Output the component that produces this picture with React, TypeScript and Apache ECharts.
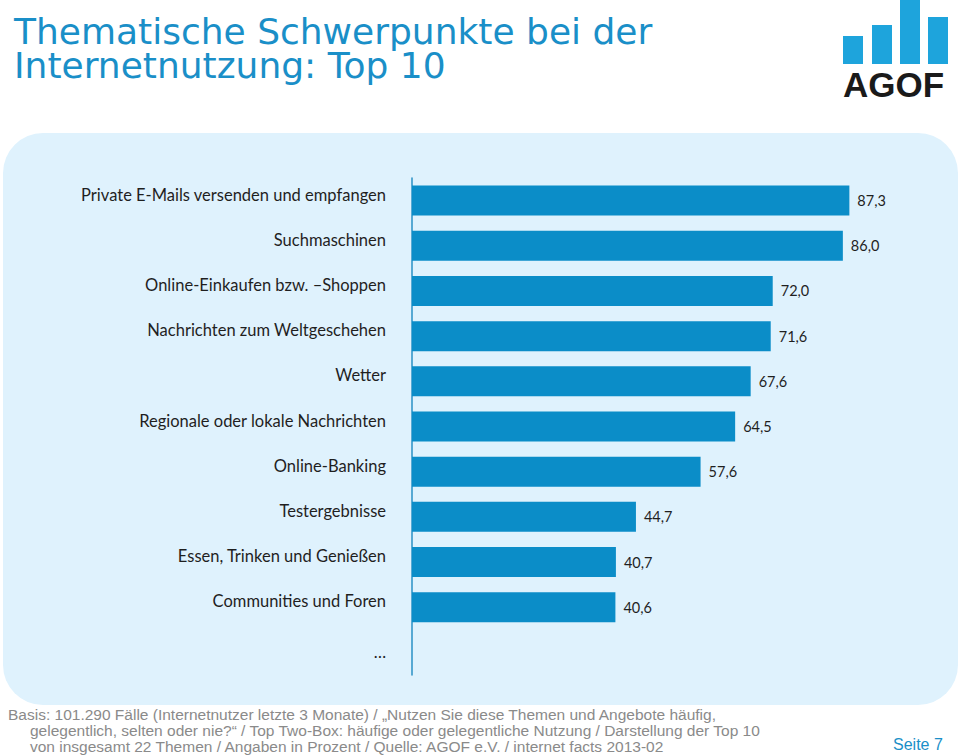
import React, { useEffect, useRef } from "react";
import * as echarts from "echarts";

const categories = [
  "Private E-Mails versenden und empfangen",
  "Suchmaschinen",
  "Online-Einkaufen bzw. –Shoppen",
  "Nachrichten zum Weltgeschehen",
  "Wetter",
  "Regionale oder lokale Nachrichten",
  "Online-Banking",
  "Testergebnisse",
  "Essen, Trinken und Genießen",
  "Communities und Foren",
  "…",
];
const values: (number | null)[] = [87.3, 86.0, 72.0, 71.6, 67.6, 64.5, 57.6, 44.7, 40.7, 40.6, null];

const titleLines = ["Thematische Schwerpunkte bei der", "Internetnutzung: Top 10"];
const footerLines = [
  "Basis: 101.290 Fälle (Internetnutzer letzte 3 Monate) / „Nutzen Sie diese Themen und Angebote häufig,",
  "gelegentlich, selten oder nie?“ / Top Two-Box: häufige oder gelegentliche Nutzung / Darstellung der Top 10",
  "von insgesamt 22 Themen / Angaben in Prozent / Quelle: AGOF e.V. / internet facts 2013-02",
];
const pageLabel = "Seite 7";
const logoBars = [
  { x: 843, y: 36, h: 28 },
  { x: 872, y: 25, h: 39 },
  { x: 900, y: 0, h: 64 },
  { x: 928, y: 17, h: 47 },
];

export default function App() {
  const ref = useRef<HTMLDivElement>(null);
  useEffect(() => {
    document.body.style.margin = "0";
    const chart = echarts.init(ref.current!, null, { renderer: "svg" });
    const blue = "#0b8dc8";
    chart.setOption({
      animation: false,
      backgroundColor: "#ffffff",
      grid: { left: 412, right: 47, top: 178, bottom: 81, containLabel: false },
      xAxis: { type: "value", min: 0, max: 100, show: false },
      yAxis: {
        type: "category",
        data: categories,
        inverse: true,
        axisLine: { show: true, lineStyle: { color: "#2a90c4", width: 1.5 } },
        axisTick: { show: false },
        axisLabel: {
          margin: 26,
          fontFamily: "Lato",
          fontSize: 16.5,
          color: "#1f1f1f",
          verticalAlign: "bottom",
          lineHeight: 12,
          formatter: (v: string) => (v === "…" ? "{e|" + v + "}" : v),
          rich: { e: { fontFamily: "Lato", fontSize: 16.5, color: "#1f1f1f", lineHeight: 0 } },
        },
      },
      series: [
        {
          type: "bar",
          data: values,
          barWidth: 30,
          itemStyle: { color: blue },
          label: {
            show: true,
            position: "right",
            distance: 8,
            fontFamily: "Lato",
            fontSize: 14.5,
            color: "#1f1f1f",
            formatter: (p: any) => (p.value == null ? "" : Number(p.value).toFixed(1).replace(".", ",")),
          },
        },
      ],
      graphic: [
        {
          type: "rect",
          z: -10,
          silent: true,
          shape: { x: 3, y: 133, width: 955, height: 572, r: 40 },
          style: { fill: "#dff2fd" },
        },
        ...titleLines.map((t, i) => ({
          type: "text",
          left: 14,
          top: 13 + i * 34,
          style: { text: t, fill: "#1a8fc8", font: "36px 'DejaVu Sans'", lineHeight: 34 },
        })),
        ...logoBars.map((b) => ({
          type: "rect",
          shape: { x: b.x, y: b.y, width: 20, height: b.h },
          style: { fill: "#1ea4dc" },
        })),
        {
          type: "text",
          left: 843,
          top: 67,
          style: { text: "AGOF", fill: "#1a1a1a", font: "bold 35px 'Liberation Sans'" },
        },
        ...footerLines.map((t, i) => ({
          type: "text",
          left: i === 0 ? 8 : 30,
          top: 706 + i * 16,
          style: { text: t, fill: "#8a8a8a", font: "15.5px 'Liberation Sans'" },
        })),
        {
          type: "text",
          left: 893,
          top: 736,
          style: { text: pageLabel, fill: "#1a8fc8", font: "16px 'Liberation Sans'" },
        },
      ],
    });
    return () => chart.dispose();
  }, []);
  return <div ref={ref} style={{ width: 960, height: 756 }} />;
}
